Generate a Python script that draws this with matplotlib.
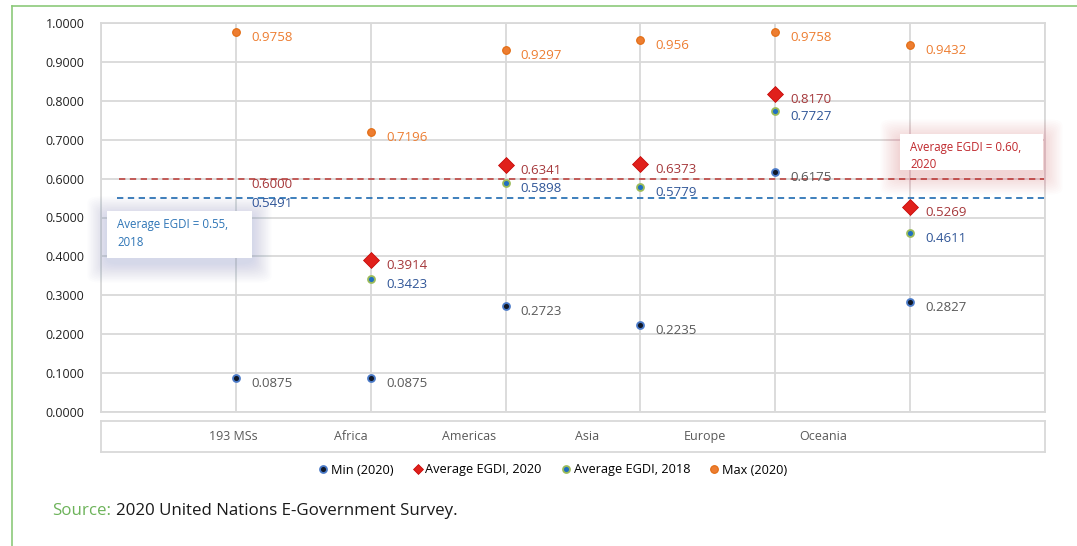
import matplotlib.pyplot as plt
from matplotlib.patches import FancyBboxPatch
from matplotlib.lines import Line2D

plt.rcParams['font.family'] = ['Open Sans', 'DejaVu Sans']

# data
regions = ["193 MSs", "Africa", "Americas", "Asia", "Europe", "Oceania"]
min_2020 = [0.0875, 0.0875, 0.2723, 0.2235, 0.6175, 0.2827]
avg_2020 = [None, 0.3914, 0.6341, 0.6373, 0.8170, 0.5269]
avg_2018 = [None, 0.3423, 0.5898, 0.5779, 0.7727, 0.4611]
max_2020 = [0.9758, 0.7196, 0.9297, 0.956, 0.9758, 0.9432]
world_avg_2020 = 0.6000
world_avg_2018 = 0.5491

x = list(range(1, len(regions) + 1))

fig = plt.figure(figsize=(10.77, 5.46), dpi=100)

# green frame (left + top)
fig.add_artist(Line2D([12/1077, 12/1077], [0, 1 - 6/546], color="#8cc97a", lw=1.2))
fig.add_artist(Line2D([12/1077, 1], [1 - 6/546, 1 - 6/546], color="#8cc97a", lw=1.2))

ax = fig.add_axes([101/1077, 1 - 412/546, 944/1077, 389/546])
ax.set_xlim(0, 7)
ax.set_ylim(0, 1)
ax.set_xticks(range(8))
ax.set_yticks([i / 10 for i in range(11)])
ax.set_yticklabels([f"{i/10:.4f}" for i in range(11)], fontsize=9, color="#222222")
ax.tick_params(axis="x", labelbottom=False, length=0)
ax.tick_params(axis="y", length=0, pad=12)
ax.grid(True, color="#d9d9d9", lw=1.3)
ax.set_axisbelow(True)
for s in ax.spines.values():
    s.set_color("#d9d9d9")
    s.set_linewidth(1.3)

# average lines
ax.hlines(world_avg_2020, 0.13, 7, colors="#c0504d", linestyles=(0, (3.5, 2.5)), lw=1.3, zorder=2)
ax.hlines(world_avg_2018, 0.12, 7, colors="#2e75b6", linestyles=(0, (3.5, 2.5)), lw=1.3, zorder=2)


def label(xv, yv, txt, color):
    ax.annotate(txt, (xv, yv), xytext=(11, -4), textcoords="offset points",
                ha="left", va="center", fontsize=9.5, color=color, zorder=5)


ax.plot(x, min_2020, "o", ms=5, mfc="#111827", mec="#4a7ac8", mew=1.3, ls="none", zorder=4)
for xi, v in zip(x, min_2020):
    label(xi, v, f"{v:.4f}", "#595959")

xs = [xi for xi, v in zip(x, avg_2018) if v is not None]
vs = [v for v in avg_2018 if v is not None]
ax.plot(xs, vs, "o", ms=5, mfc="#1f6fc0", mec="#9bbb59", mew=1.3, ls="none", zorder=4)
for xi, v in zip(xs, vs):
    label(xi, v, f"{v:.4f}", "#2f5597")

xs = [xi for xi, v in zip(x, avg_2020) if v is not None]
vs = [v for v in avg_2020 if v is not None]
ax.plot(xs, vs, "D", ms=8, mfc="#e0201b", mec="#c00000", mew=0.5, ls="none", zorder=4)
for xi, v in zip(xs, vs):
    label(xi, v, f"{v:.4f}", "#a5373a")

ax.plot(x, max_2020, "o", ms=5.5, mfc="#ed7d31", mec="#e26b10", mew=0.8, ls="none", zorder=4)
for xi, v in zip(x, max_2020):
    label(xi, v, f"{v:.4f}".rstrip("0") if v == 0.956 else f"{v:.4f}", "#ed7d31")

label(1, world_avg_2020, f"{world_avg_2020:.4f}", "#a5373a")
label(1, world_avg_2018, f"{world_avg_2018:.4f}", "#2f5597")


def callout(x0, y0, w, h, txt, color, shadow):
    # soft shadow made of stacked transparent boxes
    for i in range(14, 0, -1):
        d = i * 1.4
        p = FancyBboxPatch(((x0 - d) / 1077, 1 - (y0 + h + d + 5) / 546),
                           (w + 2 * d) / 1077, (h + 2 * d) / 546,
                           boxstyle="round,pad=0,rounding_size=0.012", transform=fig.transFigure,
                           fc=shadow, ec="none", alpha=0.016, zorder=6)
        fig.add_artist(p)
    fig.add_artist(FancyBboxPatch((x0 / 1077, 1 - (y0 + h) / 546), w / 1077, h / 546,
                                  boxstyle="square,pad=0", transform=fig.transFigure,
                                  fc="white", ec="none", zorder=7))
    fig.text((x0 + 10) / 1077, 1 - (y0 + 7) / 546, txt, ha="left", va="top",
             fontsize=8.3, color=color, linespacing=1.45, zorder=8)


callout(107, 211, 145, 47, "Average EGDI = 0.55,\n2018", "#2e75b6", "#5060b0")
callout(900, 134, 143, 36, "Average EGDI = 0.60,\n2020", "#c0282d", "#e04050")

# category label box
lab = fig.add_axes([101/1077, 1 - 452/546, 944/1077, 31/546])
lab.set_xlim(-0.12, 7.88)
lab.set_ylim(0, 1)
lab.set_xticks([])
lab.set_yticks([])
for s in lab.spines.values():
    s.set_color("#d9d9d9")
    s.set_linewidth(1.3)
for xi, r in zip(x, regions):
    lab.text(xi, 0.5, r, ha="center", va="center", fontsize=9, color="#595959")

handles = [
    Line2D([], [], marker="o", ms=5, mfc="#111827", mec="#4a7ac8", mew=1.3, ls="none"),
    Line2D([], [], marker="D", ms=5.5, mfc="#e0201b", mec="#c00000", mew=0.5, ls="none"),
    Line2D([], [], marker="o", ms=5, mfc="#1f6fc0", mec="#9bbb59", mew=1.3, ls="none"),
    Line2D([], [], marker="o", ms=5.5, mfc="#ed7d31", mec="#e26b10", mew=0.8, ls="none"),
]
names = ["Min (2020)", "Average EGDI, 2020", "Average EGDI, 2018", "Max (2020)"]
fig.legend(handles, names, loc="center", bbox_to_anchor=(552/1077, 1 - 470/546), ncol=4,
           frameon=False, fontsize=9.2, handletextpad=0.1, columnspacing=1.4, handlelength=1.0)

fig.text(52/1077, 1 - 511/546, "Source:", fontsize=12.2, color="#6db35a", ha="left", va="center")
fig.text(116/1077, 1 - 511/546, "2020 United Nations E-Government Survey.", fontsize=12.2,
         color="#1a1a1a", ha="left", va="center")

fig.savefig("out.png", dpi=100)
